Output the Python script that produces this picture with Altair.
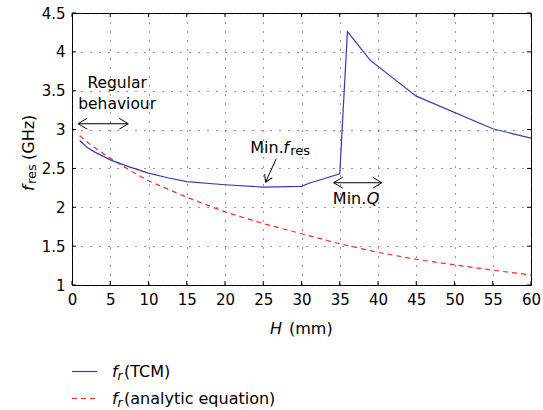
import altair as alt
import pandas as pd

# Resonant frequency of the TCM model vs. cavity height H
h_tcm = [1, 2, 3, 5, 7.5, 10, 12.5, 15, 20, 25, 30, 31, 35, 36, 39, 45, 55, 60]
f_tcm = [2.86, 2.77, 2.71, 2.61, 2.52, 2.44, 2.38, 2.33, 2.29, 2.26, 2.27, 2.31,
         2.43, 4.26, 3.89, 3.43, 3.01, 2.89]

# Resonant frequency from the analytic equation
h_eq = [1, 2.5, 5, 7.5, 10, 15, 20, 25, 30, 35, 40, 45, 50, 55, 60]
f_eq = [2.92, 2.80, 2.63, 2.48, 2.34, 2.13, 1.94, 1.79, 1.66, 1.53, 1.42, 1.33,
        1.26, 1.19, 1.13]

x_ticks = list(range(0, 61, 5))
y_ticks = [1, 1.5, 2, 2.5, 3, 3.5, 4, 4.5]

W, H = 459, 272
FONT = "DejaVu Sans"
BLUE = "#3040b0"
RED = "#ff2a2a"

axis_x = alt.Axis(values=x_ticks, grid=True, gridDash=[1, 8], gridColor="#333",
                  gridWidth=1, ticks=False, tickSize=0, domain=False, title=None,
                  labelFont=FONT, labelFontSize=15, labelColor="black",
                  labelPadding=7, labelFlush=False, labelOverlap=False)
axis_y = alt.Axis(values=y_ticks, grid=True, gridDash=[1, 8], gridColor="#333",
                  gridWidth=1, ticks=False, tickSize=0, domain=False, title=None,
                  labelFont=FONT, labelFontSize=15, labelColor="black",
                  labelPadding=7, labelFlush=False, labelOverlap=False,
                  labelExpr="datum.value == 1 ? '1' : format(datum.value, '.1~f')")

X = alt.X("H:Q", scale=alt.Scale(domain=[0, 60], nice=False, zero=False), axis=axis_x)
Y = alt.Y("f:Q", scale=alt.Scale(domain=[1, 4.5], nice=False, zero=False), axis=axis_y)

tcm = pd.DataFrame({"H": h_tcm, "f": f_tcm})
eq = pd.DataFrame({"H": h_eq, "f": f_eq})

line_tcm = alt.Chart(tcm).mark_line(color=BLUE, strokeWidth=1.2).encode(x=X, y=Y)
line_eq = alt.Chart(eq).mark_line(color=RED, strokeWidth=1.2, strokeDash=[5, 4]).encode(x=X, y=Y)

# inward ticks on all four sides of the frame
xt = pd.DataFrame({"H": x_ticks})
yt = pd.DataFrame({"f": y_ticks})
tick_b = alt.Chart(xt).mark_rule(color="black").encode(x=X, y=alt.value(H), y2=alt.value(H - 4))
tick_t = alt.Chart(xt).mark_rule(color="black").encode(x=X, y=alt.value(0), y2=alt.value(4))
tick_l = alt.Chart(yt).mark_rule(color="black").encode(y=Y, x=alt.value(0), x2=alt.value(4))
tick_r = alt.Chart(yt).mark_rule(color="black").encode(y=Y, x=alt.value(W), x2=alt.value(W - 4))

# arrows
CHEVRON = "M0,0L1,-0.6M0,0L1,0.6"
spans = pd.DataFrame({"H": [0.8, 34.2], "H2": [7.35, 40.5], "f": [3.075, 2.316]})
span_rules = alt.Chart(spans).mark_rule(color="black", strokeWidth=1).encode(
    x=X, x2="H2:Q", y=Y)
heads = pd.DataFrame({
    "H": [0.8, 7.35, 34.2, 40.5],
    "f": [3.075, 3.075, 2.316, 2.316],
    "ang": [0, 180, 0, 180],
})
span_heads = alt.Chart(heads).mark_point(
    shape=CHEVRON, filled=False, color="black", strokeWidth=1, opacity=1, size=324
).encode(x=X, y=Y, angle=alt.Angle("ang:Q", scale=None))

pointer = pd.DataFrame({"H": [26.7], "f": [2.624], "H2": [25.3], "f2": [2.322]})
pointer_rule = alt.Chart(pointer).mark_rule(color="black", strokeWidth=1).encode(
    x=X, y=Y, x2="H2:Q", y2="f2:Q")
pointer_head = alt.Chart(pd.DataFrame({"H": [25.3], "f": [2.322]})).mark_point(
    shape=CHEVRON, filled=False, color="black", strokeWidth=1, opacity=1, size=196,
    angle=295
).encode(x=X, y=Y)


def label(df, **kw):
    base = dict(font=FONT, color="black", baseline="alphabetic")
    base.update(kw)
    return alt.Chart(pd.DataFrame(df)).mark_text(**base)


ann_regular = label({"H": [5.9, 5.9], "f": [3.53, 3.27], "t": ["Regular", "behaviour"]},
                    fontSize=15.5, align="center").encode(x=X, y=Y, text="t:N")
ann_min1 = label({"H": [23.3], "f": [2.695], "t": ["Min."]}, fontSize=16,
                 align="left").encode(x=X, y=Y, text="t:N")
ann_min1_f = label({"H": [23.3], "f": [2.695], "t": ["f"]}, fontSize=16, fontStyle="italic",
                   align="left", dx=33).encode(x=X, y=Y, text="t:N")
ann_min1_res = label({"H": [23.3], "f": [2.695], "t": ["res"]}, fontSize=13,
                     align="left", dx=40, dy=2).encode(x=X, y=Y, text="t:N")
ann_min2 = label({"H": [34.1], "f": [2.04], "t": ["Min."]}, fontSize=16,
                 align="left").encode(x=X, y=Y, text="t:N")
ann_min2_q = label({"H": [34.1], "f": [2.04], "t": ["Q"]}, fontSize=16, fontStyle="italic",
                   align="left", dx=34).encode(x=X, y=Y, text="t:N")


def px_text(t, x, y, **kw):
    return label({"t": [t]}, **kw).encode(x=alt.value(x), y=alt.value(y), text="t:N")


# axis titles
xt_h = px_text("H", 198, 321, fontSize=16, fontStyle="italic", align="left")
xt_mm = px_text("(mm)", 217, 321, fontSize=16, align="left")
yt_f = px_text("f", -38, 178, fontSize=16, fontStyle="italic", align="left", angle=270)
yt_res = px_text("res", -36, 171, fontSize=13, align="left", angle=270)
yt_ghz = px_text("(GHz)", -38, 147, fontSize=16, align="left", angle=270)

# legend below the plot
leg_blue = alt.Chart(pd.DataFrame({"a": [0]})).mark_rule(color=BLUE, strokeWidth=1.2).encode(
    x=alt.value(0), x2=alt.value(25), y=alt.value(358.5))
leg_red = alt.Chart(pd.DataFrame({"a": [0]})).mark_rule(
    color=RED, strokeWidth=1.2, strokeDash=[5, 4]).encode(
    x=alt.value(0), x2=alt.value(25), y=alt.value(385.5))
leg_f1 = px_text("f", 40, 364, fontSize=16, fontStyle="italic", align="left")
leg_r1 = px_text("r", 45.5, 367, fontSize=12, fontStyle="italic", align="left")
leg_t1 = px_text("(TCM)", 52, 364, fontSize=16, align="left")
leg_f2 = px_text("f", 40, 391, fontSize=16, fontStyle="italic", align="left")
leg_r2 = px_text("r", 45.5, 394, fontSize=12, fontStyle="italic", align="left")
leg_t2 = px_text("(analytic equation)", 52, 391, fontSize=16, align="left")

chart = alt.layer(
    line_eq, line_tcm,
    tick_b, tick_t, tick_l, tick_r,
    span_rules, span_heads, pointer_rule, pointer_head,
    ann_regular, ann_min1, ann_min1_f, ann_min1_res, ann_min2, ann_min2_q,
    xt_h, xt_mm, yt_f, yt_res, yt_ghz,
    leg_blue, leg_red, leg_f1, leg_r1, leg_t1, leg_f2, leg_r2, leg_t2,
).properties(
    width=W, height=H,
    autosize=alt.AutoSizeParams(type="none"),
    padding={"left": 72, "top": 13, "right": 12, "bottom": 125},
    background="white",
).configure_view(stroke="black", strokeWidth=1)

chart.save("out.html", embed_options={"renderer": "svg", "actions": False})
